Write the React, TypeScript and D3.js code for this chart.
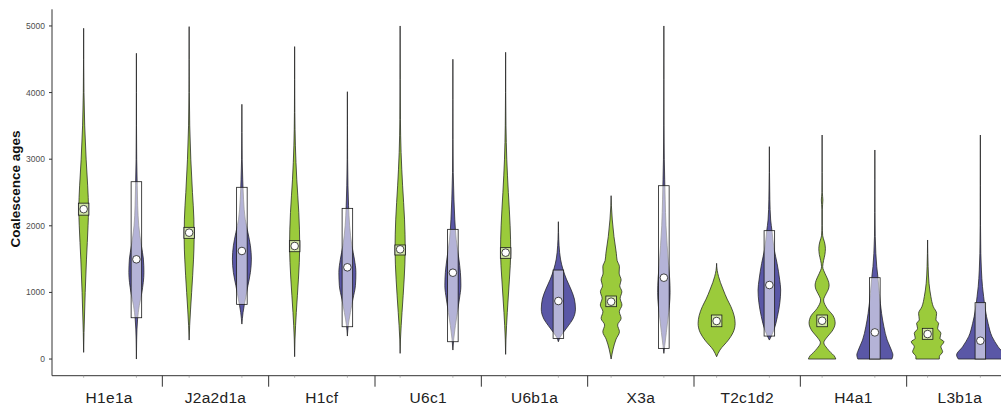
import * as d3 from 'd3'

const groups = ['H1e1a', 'J2a2d1a', 'H1cf', 'U6c1', 'U6b1a', 'X3a', 'T2c1d2', 'H4a1', 'L3b1a']
const yTicks = [0, 1000, 2000, 3000, 4000, 5000]

// density profiles: [age, relative density (100 = widest)]
const h1e1aGreen = [[100, 0], [400, 1.6], [1000, 6.5], [1500, 12], [2000, 18.5], [2250, 20.5], [2600, 17], [3000, 10.5], [3500, 4.5], [4000, 1.4], [4500, 0.4], [4965, 0]]
const h1e1aPurple = [[0, 0], [300, 1.2], [600, 5], [800, 12], [1000, 23], [1300, 31.7], [1500, 29.5], [1700, 21], [2000, 10], [2300, 5.5], [2600, 3.5], [3000, 1.3], [3500, 0.5], [4000, 0.2], [4590, 0]]
const j2a2d1aGreen = [[285, 0], [500, 2.2], [1000, 10.5], [1500, 18.5], [1800, 21], [2100, 20], [2500, 14], [3000, 7], [3500, 2.5], [4000, 0.8], [4500, 0.3], [4990, 0]]
const j2a2d1aPurple = [[525, 0], [700, 5], [900, 14.8], [1100, 25.3], [1300, 35.9], [1500, 40], [1700, 35.9], [1900, 25.3], [2100, 14], [2400, 7], [2700, 3.5], [3000, 1.3], [3400, 0.5], [3824, 0]]
const h1cfGreen = [[35, 0], [300, 1.5], [700, 7], [1200, 16], [1700, 21.5], [2200, 17.5], [2700, 9], [3200, 3.2], [3700, 0.9], [4200, 0.3], [4690, 0]]
const h1cfPurple = [[345, 0], [500, 3.5], [700, 12.7], [900, 23.2], [1100, 33.8], [1300, 35.9], [1500, 29.5], [1700, 19], [2000, 9.5], [2300, 5], [2600, 2.5], [3000, 1], [3500, 0.4], [4013, 0]]
const u6c1Green = [[85, 0], [300, 1.5], [700, 8], [1200, 17], [1650, 21.5], [2100, 18.5], [2600, 10.5], [3100, 4], [3600, 1.2], [4200, 0.4], [5000, 0]]
const u6c1Purple = [[135, 0], [300, 3.5], [500, 10.5], [700, 19], [900, 27.4], [1100, 33.8], [1300, 31.7], [1500, 25.3], [1800, 14], [2100, 8], [2400, 4.5], [2800, 1.5], [3300, 0.6], [3900, 0.2], [4500, 0]]
const u6b1aGreen = [[70, 0], [300, 1.5], [700, 7], [1200, 16], [1600, 21.5], [2000, 19], [2500, 11.5], [3000, 4.8], [3500, 1.5], [4000, 0.4], [4605, 0]]
const u6b1aPurple = [[260, 0], [320, 6.3], [400, 21], [500, 42], [600, 61], [750, 72], [900, 67.5], [1050, 52.7], [1200, 33.8], [1350, 19], [1500, 9], [1700, 3], [1900, 0.8], [2062, 0]]
const x3aGreen = [[0, 0], [150, 8.4], [300, 21], [410, 35], [510, 27.4], [611, 42.2], [711, 34.6], [811, 45.6], [911, 38], [1011, 45.2], [1100, 36.3], [1186, 42.2], [1290, 33.8], [1386, 35], [1480, 25.3], [1587, 22], [1837, 12], [2087, 5], [2300, 1.2], [2452, 0]]
const x3aPurple = [[85, 0], [200, 3.5], [400, 10.5], [600, 16.9], [800, 23.2], [1000, 26.2], [1200, 24.5], [1400, 20.3], [1700, 14], [2000, 9], [2400, 5.5], [2700, 3.5], [3000, 1.8], [3500, 0.7], [4200, 0.2], [5000, 0]]
const t2c1d2Green = [[35, 0], [135, 13.9], [285, 49.4], [400, 69.6], [535, 78], [650, 73.8], [786, 60.3], [900, 44.3], [1036, 28.3], [1150, 16], [1236, 8.5], [1330, 2.5], [1437, 0]]
const t2c1d2Purple = [[285, 0], [345, 8.4], [435, 19], [636, 33.8], [850, 44.3], [1036, 47.7], [1200, 43], [1436, 32.5], [1650, 20], [1927, 11], [2087, 5.5], [2400, 2], [2800, 0.6], [3188, 0]]
const h4a1Green = [[0, 57.8], [50, 50.6], [100, 35.9], [160, 21.1], [245, 7.2], [330, 21.1], [420, 42.2], [540, 54.9], [650, 46.4], [760, 21.1], [886, 6.3], [980, 16.9], [1050, 26.6], [1112, 29.5], [1180, 25.3], [1280, 12.7], [1386, 2.5], [1480, 6.3], [1570, 11.8], [1662, 13.9], [1760, 9.7], [1850, 2.5], [2000, 0.8], [2250, 0.9], [2387, 3.2], [2500, 0.8], [2800, 0.3], [3363, 0]]
const h4a1Purple = [[0, 71.7], [60, 76], [135, 69.6], [285, 51.9], [485, 38], [686, 28.3], [986, 19], [1236, 12.7], [1386, 8], [1586, 4.2], [1836, 1.6], [2200, 0.6], [2700, 0.25], [3138, 0]]
const l3b1aGreen = [[0, 49.4], [35, 49.4], [110, 63.3], [185, 56.1], [260, 68.8], [311, 51.9], [386, 56.1], [461, 42.2], [536, 46.4], [586, 35], [686, 38], [785, 24.1], [936, 13.9], [1137, 6], [1386, 2.2], [1587, 0.8], [1787, 0]]
const l3b1aPurple = [[0, 92.8], [60, 100], [185, 74.7], [336, 49.4], [536, 32.5], [736, 21.1], [936, 13.9], [1086, 9], [1336, 4.5], [1587, 2], [2000, 0.7], [2600, 0.25], [3363, 0]]

const greenProfiles = [h1e1aGreen, j2a2d1aGreen, h1cfGreen, u6c1Green, u6b1aGreen, x3aGreen, t2c1d2Green, h4a1Green, l3b1aGreen]
const purpleProfiles = [h1e1aPurple, j2a2d1aPurple, h1cfPurple, u6c1Purple, u6b1aPurple, x3aPurple, t2c1d2Purple, h4a1Purple, l3b1aPurple]

// box stats
const greenQ1 = [2160, 1812, 1611, 1562, 1512, 786, 485, 485, 296]
const greenMid = [2250, 1897, 1697, 1647, 1597, 861, 571, 575, 375]
const greenQ3 = [2340, 1977, 1777, 1712, 1672, 946, 661, 661, 461]
const purpleQ1 = [620, 821, 485, 260, 310, 160, 345, 0, 0]
const purpleMid = [1497, 1622, 1377, 1296, 871, 1221, 1111, 400, 275]
const purpleQ3 = [2662, 2578, 2262, 1947, 1336, 2602, 1927, 1221, 846]

const colors = { green: '#9bcb3b', purple: '#5a57a6' }

const violins = groups.flatMap((g, i) => [
  { id: `${g}-green`, key: 'green', profile: greenProfiles[i], q1: greenQ1[i], mid: greenMid[i], q3: greenQ3[i] },
  { id: `${g}-purple`, key: 'purple', profile: purpleProfiles[i], q1: purpleQ1[i], mid: purpleMid[i], q3: purpleQ3[i] },
])

const font = '"Liberation Sans", Arial, Helvetica, sans-serif'

export default function App() {
  const xScale = d3.scalePoint().domain(violins.map(v => v.id)).range([52, 1012]).padding(0.6)
  const groupScale = d3.scaleBand().domain(groups).range([56, 1013])
  const yScale = d3.scaleLinear().domain([-250, 5250]).range([375.7, 9.3])
  const wScale = d3.scaleLinear().domain([0, 100]).range([0, xScale.step() * 0.45])
  const boxW = xScale.step() * 0.2

  const y0 = yScale(-250)

  return (
    <svg width={1001} height={407} style={{ position: 'absolute', left: 0, top: 0, background: '#fff' }}>
      {violins.map(v => {
        const cx = xScale(v.id)
        const area = d3
          .area()
          .y(d => yScale(d[0]))
          .x0(d => cx - wScale(d[1]))
          .x1(d => cx + wScale(d[1]))
          .curve(d3.curveMonotoneY)
        return (
          <g key={v.id}>
            <path d={area(v.profile)} fill={colors[v.key]} stroke="#222" strokeWidth={0.75} />
            <rect
              x={cx - boxW / 2}
              y={yScale(v.q3)}
              width={boxW}
              height={yScale(v.q1) - yScale(v.q3)}
              fill="#fff"
              fillOpacity={0.55}
              stroke="#1a1a1a"
              strokeWidth={0.8}
            />
            <circle cx={cx} cy={yScale(v.mid)} r={3.8} fill="#fff" stroke="#1a1a1a" strokeWidth={0.8} />
          </g>
        )
      })}

      {/* y axis */}
      <path d={`M 52 ${yScale(5250)} V ${y0}`} stroke="#333" strokeWidth={1} />
      {yTicks.map(t => (
        <g key={t}>
          <path d={`M 49 ${yScale(t)} H 52`} stroke="#333" />
          <text
            x={45}
            y={yScale(t) + 3}
            fill="#4d4d4d"
            fontSize={8.5}
            textAnchor="end"
            fontFamily={font}
          >
            {t}
          </text>
        </g>
      ))}
      <text
        transform={`translate(20, 189) rotate(-90)`}
        textAnchor="middle"
        fontSize={13.5}
        fontWeight="bold"
        fill="#111"
        fontFamily={font}
      >
        Coalescence ages
      </text>

      {/* x axis */}
      <path d={`M 52 ${y0} H 1001`} stroke="#333" strokeWidth={1} />
      {violins.map(v => (
        <path key={v.id} d={`M ${xScale(v.id)} ${y0} v 2`} stroke="#999" strokeWidth={0.8} />
      ))}
      {groups.slice(1).map(g => (
        <path key={g} d={`M ${groupScale(g)} ${y0} v 11`} stroke="#333" strokeWidth={1} />
      ))}
      {groups.map(g => (
        <text
          key={g}
          x={groupScale(g) + groupScale.bandwidth() / 2}
          y={403}
          textAnchor="middle"
          fontSize={15.5}
          letterSpacing={0.3}
          fill="#222"
          fontFamily={font}
        >
          {g}
        </text>
      ))}
    </svg>
  )
}
